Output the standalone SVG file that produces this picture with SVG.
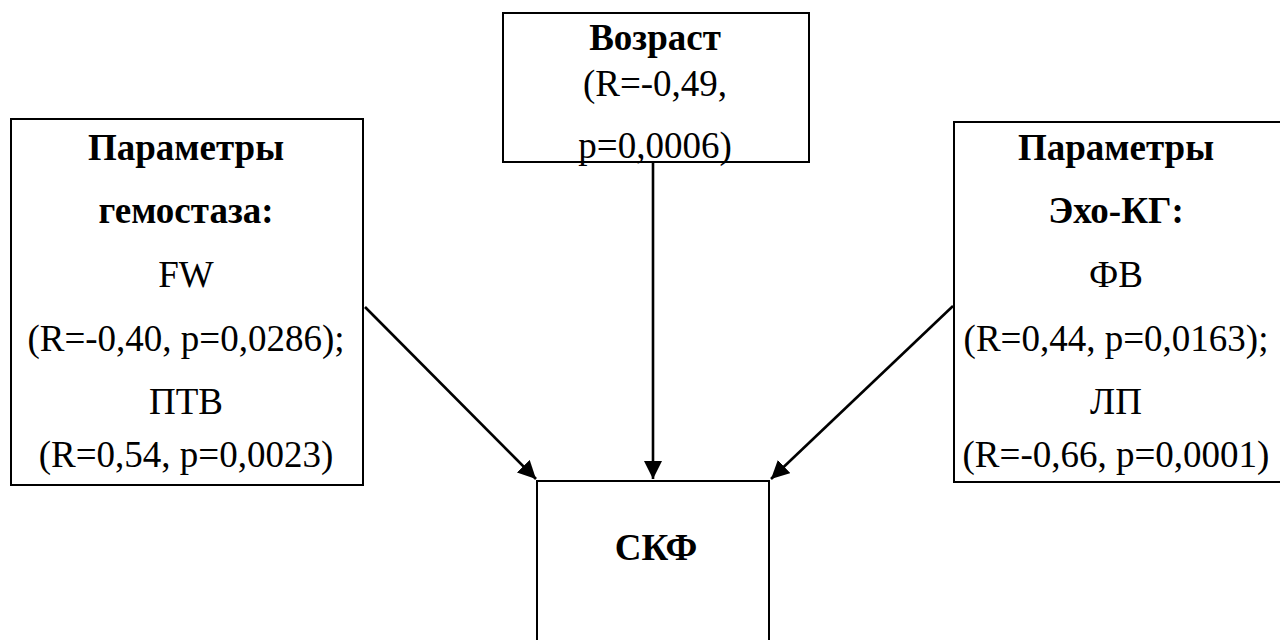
<svg xmlns="http://www.w3.org/2000/svg" width="1280" height="640" viewBox="0 0 1280 640">
<style>
.box{fill:#fff;stroke:#000;stroke-width:2}
text{font-family:"Liberation Serif","Times New Roman",serif;font-size:37px;fill:#000;text-anchor:middle}
.b{font-weight:bold}
.conn{stroke:#000;stroke-width:2.6;fill:none}
</style>
<defs>
<marker id="ah" markerUnits="userSpaceOnUse" markerWidth="20" markerHeight="20" refX="18" refY="9" orient="auto">
<path d="M0,0 L18,9 L0,18 z" fill="#000"/>
</marker>
</defs>
<rect width="1280" height="640" fill="#fff"/>
<g id="age">
<rect class="box" x="503" y="13" width="306" height="149"/>
<text class="b" x="655" y="50">Возраст</text>
<text x="655" y="96">(R=-0,49,</text>
<text x="655" y="158">p=0,0006)</text>
</g>
<g id="hemostasis">
<rect class="box" x="11" y="119" width="352" height="366"/>
<text class="b" x="186" y="160">Параметры</text>
<text class="b" x="186" y="223">гемостаза:</text>
<text x="186" y="287">FW</text>
<text x="186" y="351">(R=-0,40, p=0,0286);</text>
<text x="186" y="414">ПТВ</text>
<text x="186" y="467">(R=0,54, p=0,0023)</text>
</g>
<g id="echo">
<rect class="box" x="954" y="122" width="340" height="360"/>
<text class="b" x="1116" y="160">Параметры</text>
<text class="b" x="1116" y="223">Эхо-КГ:</text>
<text x="1116" y="287">ФВ</text>
<text x="1116" y="351">(R=0,44, p=0,0163);</text>
<text x="1116" y="414">ЛП</text>
<text x="1116" y="467">(R=-0,66, p=0,0001)</text>
</g>
<g id="gfr">
<rect class="box" x="537" y="481" width="232" height="180"/>
<text class="b" x="656" y="560">СКФ</text>
</g>
<g id="connectors">
<line class="conn" x1="653" y1="162" x2="653" y2="479" marker-end="url(#ah)"/>
<line class="conn" x1="365" y1="307" x2="536" y2="479" marker-end="url(#ah)"/>
<line class="conn" x1="953" y1="306" x2="771" y2="479" marker-end="url(#ah)"/>
</g>
</svg>
